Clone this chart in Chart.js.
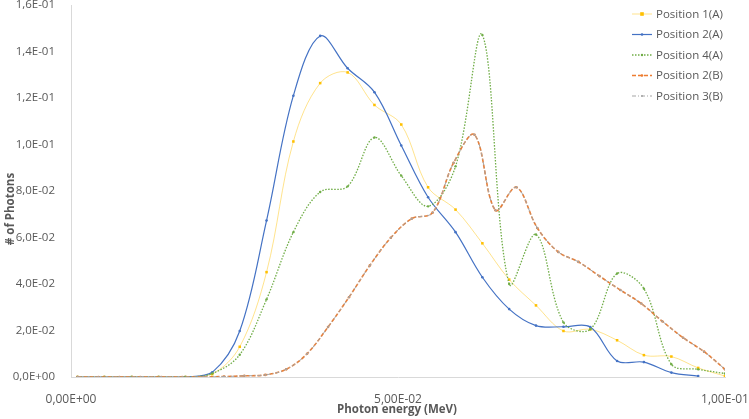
<!DOCTYPE html>
<html>
<head>
<meta charset="utf-8">
<script src="https://cdn.jsdelivr.net/npm/chart.js@4.4.0/dist/chart.umd.min.js"></script>
<style>
  html, body { margin: 0; padding: 0; background: #fff; }
</style>
</head>
<body>
<canvas id="photons" width="749" height="419"></canvas>
<script>
// photon energy grid (MeV) of the (A) runs and of the (B) runs
const energyA = [0.0010, 0.0051, 0.0093, 0.0134, 0.0175, 0.0216, 0.0258, 0.0299, 0.0340, 0.0381,
  0.0423, 0.0464, 0.0505, 0.0546, 0.0588, 0.0629, 0.0670, 0.0711, 0.0753, 0.0794,
  0.0835, 0.0876, 0.0918, 0.0959, 0.1000];
const energyB = [0.0010, 0.0042, 0.0074, 0.0106, 0.0138, 0.0170, 0.0202, 0.0234, 0.0265, 0.0297,
  0.0329, 0.0361, 0.0393, 0.0425, 0.0457, 0.0489, 0.0521, 0.0553, 0.0585, 0.0617,
  0.0649, 0.0681, 0.0713, 0.0745, 0.0776, 0.0808, 0.0840, 0.0872, 0.0904, 0.0936,
  0.0968, 0.1000];

// # of photons per series
const pos1A = [0, 0, 0, 0, 0, 0.0012, 0.0130, 0.0451, 0.1013, 0.1264, 0.1310, 0.1170, 0.1086,
  0.0816, 0.0720, 0.0575, 0.0419, 0.0308, 0.0198, 0.0205, 0.0158, 0.0094, 0.0088, 0.0039, 0.0004];
const pos2A = [0, 0, 0, 0, 0, 0.0020, 0.0198, 0.0673, 0.1210, 0.1467, 0.1328, 0.1225, 0.0996,
  0.0773, 0.0623, 0.0429, 0.0292, 0.0221, 0.0216, 0.0215, 0.0069, 0.0064, 0.0019, 0.0004];
const pos4A = [0, 0, 0, 0, 0, 0.0015, 0.0096, 0.0334, 0.0623, 0.0796, 0.0820, 0.1030, 0.0866,
  0.0734, 0.0906, 0.1471, 0.0400, 0.0613, 0.0235, 0.0205, 0.0445, 0.0380, 0.0055, 0.0033, 0.0015];
const pos2B = [0, 0, 0, 0, 0, 0, 0, 0.0002, 0.0005, 0.0009, 0.0033, 0.0100, 0.0215, 0.0343,
  0.0480, 0.0599, 0.0681, 0.0707, 0.0921, 0.1042, 0.0717, 0.0816, 0.0641, 0.0538, 0.0495,
  0.0434, 0.0374, 0.0316, 0.0240, 0.0169, 0.0109, 0.0033];
const pos3B = [0, 0, 0, 0, 0, 0, 0, 0.0002, 0.0005, 0.0009, 0.0033, 0.0100, 0.0215, 0.0343,
  0.0480, 0.0599, 0.0681, 0.0707, 0.0921, 0.1042, 0.0717, 0.0816, 0.0641, 0.0538, 0.0495,
  0.0434, 0.0374, 0.0316, 0.0240, 0.0169, 0.0109, 0.0033];

const seriesNames = ["Position 1(A)", "Position 2(A)", "Position 4(A)", "Position 2(B)", "Position 3(B)"];
const yTicks = [0, 0.02, 0.04, 0.06, 0.08, 0.10, 0.12, 0.14, 0.16];
const xTicks = [0, 0.05, 0.10];
const xTitle = "Photon energy (MeV)";
const yTitle = "# of Photons";

const FONT = "'Open Sans', 'Liberation Sans', sans-serif";
const TEXT = "#595959";

// Excel style scientific label: 1,6E-01
function excelSci(v, digits) {
  const parts = v.toExponential(digits).split("e");
  const n = parseInt(parts[1], 10);
  const exp = (n < 0 ? "-" : "+") + String(Math.abs(n)).padStart(2, "0");
  return parts[0].replace(".", ",") + "E" + exp;
}

function pairs(xs, ys) {
  return ys.map((y, i) => ({ x: xs[i], y: y }));
}

const styles = [
  { line: "rgba(255,192,0,0.45)", point: "#FFC000", dash: [], width: 1, radius: 1.8, shape: "rect" },
  { line: "#4472C4", point: "#4472C4", dash: [], width: 1.2, radius: 1.3, shape: "circle" },
  { line: "#70AD47", point: "#70AD47", dash: [1.5, 1.5], width: 1.3, radius: 1.2, shape: "circle" },
  { line: "#ED7D31", point: "#ED7D31", dash: [4, 2], width: 1.6, radius: 1.3, shape: "circle" },
  { line: "#A5A5A5", point: "#A5A5A5", dash: [4, 2, 1, 2], width: 1, radius: 1, shape: "circle" },
];
const seriesData = [pairs(energyA, pos1A), pairs(energyA, pos2A), pairs(energyA, pos4A),
  pairs(energyB, pos2B), pairs(energyB, pos3B)];

const datasets = seriesNames.map((name, i) => ({
  label: name,
  data: seriesData[i],
  borderColor: styles[i].line,
  borderWidth: styles[i].width,
  borderDash: styles[i].dash,
  pointRadius: styles[i].radius,
  pointStyle: styles[i].shape,
  pointBackgroundColor: styles[i].point,
  pointBorderWidth: 0,
  tension: 0.35,
  fill: false,
  order: seriesNames.length - i, // later series on top, like Excel
}));

// legend + axis titles drawn by hand so they sit where Excel put them
const extras = {
  id: "extras",
  afterDraw(chart) {
    const ctx = chart.ctx;
    ctx.save();
    ctx.fillStyle = TEXT;
    ctx.font = "bold 11.5px " + FONT;
    ctx.textAlign = "center";
    ctx.textBaseline = "middle";
    ctx.fillText(xTitle, 397, 410);
    ctx.save();
    ctx.translate(11, 209);
    ctx.rotate(-Math.PI / 2);
    ctx.fillText(yTitle, 0, 0);
    ctx.restore();

    ctx.font = "11.5px " + FONT;
    ctx.textAlign = "left";
    seriesNames.forEach((name, i) => {
      const y = 14 + i * 20.5;
      const s = styles[i];
      ctx.strokeStyle = s.line;
      ctx.lineWidth = s.width;
      ctx.setLineDash(s.dash);
      ctx.beginPath();
      ctx.moveTo(632, y);
      ctx.lineTo(652, y);
      ctx.stroke();
      ctx.setLineDash([]);
      ctx.fillStyle = s.point;
      if (s.shape === "rect") {
        ctx.fillRect(642 - s.radius, y - s.radius, s.radius * 2, s.radius * 2);
      } else {
        ctx.beginPath();
        ctx.arc(642, y, s.radius, 0, Math.PI * 2);
        ctx.fill();
      }
      ctx.fillStyle = TEXT;
      ctx.fillText(name, 656, y + 0.5);
    });
    ctx.restore();
  },
};

new Chart(document.getElementById("photons"), {
  type: "line",
  data: { datasets: datasets },
  plugins: [extras],
  options: {
    responsive: false,
    animation: false,
    layout: { padding: { left: 0, right: 24, top: 5, bottom: 0 } },
    plugins: { legend: { display: false }, tooltip: { enabled: false } },
    scales: {
      x: {
        type: "linear",
        min: 0,
        max: 0.1,
        grid: { display: false },
        border: { display: true, color: "#D9D9D9", width: 1 },
        afterBuildTicks: (s) => { s.ticks = xTicks.map((v) => ({ value: v })); },
        afterFit: (s) => { s.height = 42; s.paddingLeft = 0; s.paddingRight = 0; },
        ticks: {
          padding: 7,
          maxRotation: 0,
          autoSkip: false,
          color: TEXT,
          font: { family: FONT, size: 12 },
          callback: (v) => excelSci(v, 2),
        },
      },
      y: {
        type: "linear",
        min: 0,
        max: 0.16,
        grid: { display: false },
        border: { display: true, color: "#D9D9D9", width: 1 },
        afterBuildTicks: (s) => { s.ticks = yTicks.map((v) => ({ value: v })); },
        afterFit: (s) => { s.width = 71; s.paddingTop = 0; s.paddingBottom = 0; },
        ticks: {
          padding: 8,
          autoSkip: false,
          color: TEXT,
          font: { family: FONT, size: 11.5 },
          callback: (v) => excelSci(v, 1),
        },
      },
    },
  },
});
</script>
</body>
</html>
